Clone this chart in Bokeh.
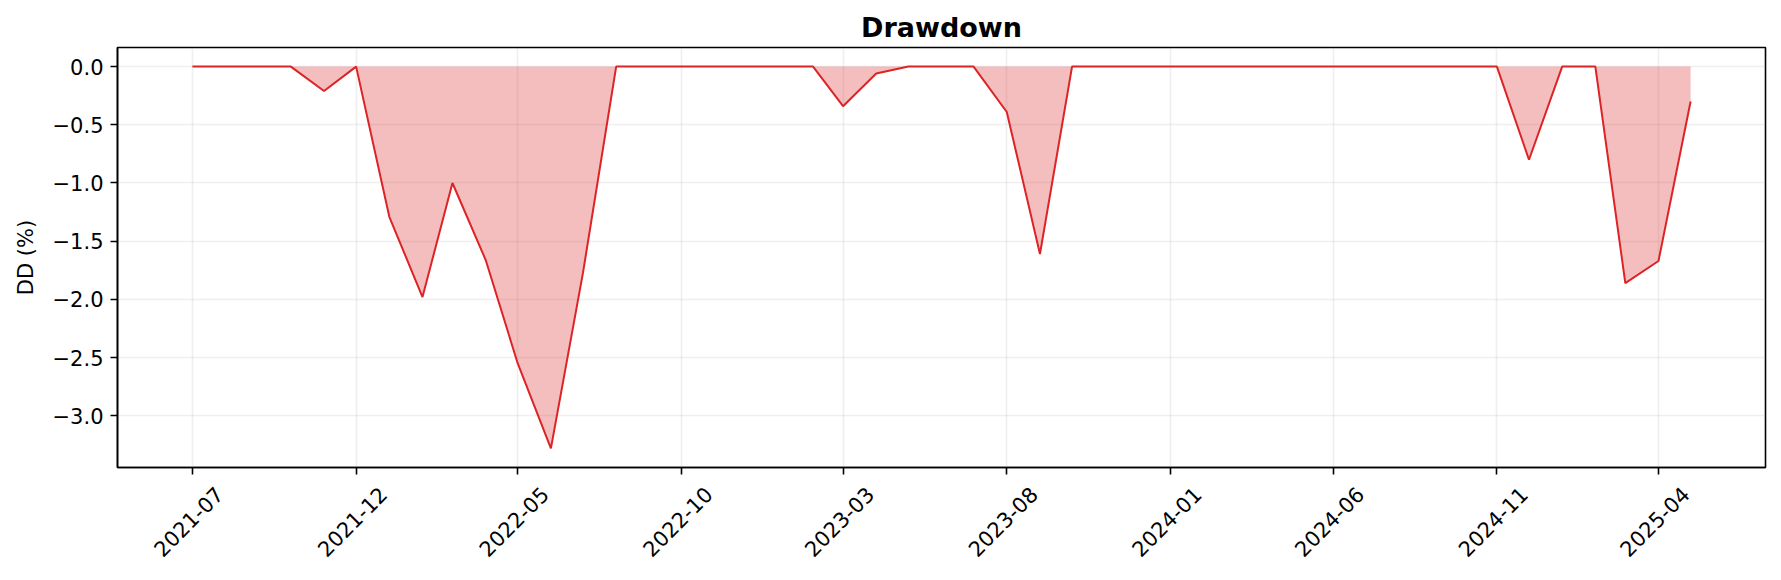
import numpy as np
import pandas as pd
from bokeh.plotting import figure
from bokeh.models import (Range1d, FixedTicker, DatetimeAxis, ColumnDataSource,
                          CustomJSTickFormatter)
from bokeh.embed import file_html
from bokeh.resources import INLINE

# monthly drawdown in %, first value is 2021-07
first_month = "2021-07-01"
drawdown = [
    0.0, 0.0, 0.0, 0.0, -0.21, 0.0,          # 2021-07 .. 2021-12
    -1.29, -1.98, -1.00, -1.66, -2.55, -3.28,  # 2022-01 .. 2022-06
    -1.77, 0.0, 0.0, 0.0, 0.0, 0.0,          # 2022-07 .. 2022-12
    0.0, 0.0, -0.34, -0.06, 0.0, 0.0,        # 2023-01 .. 2023-06
    0.0, -0.39, -1.61, 0.0, 0.0, 0.0,        # 2023-07 .. 2023-12
    0.0, 0.0, 0.0, 0.0, 0.0, 0.0,            # 2024-01 .. 2024-06
    0.0, 0.0, 0.0, 0.0, 0.0, -0.80,          # 2024-07 .. 2024-12
    0.0, 0.0, -1.86, -1.67, -0.30,           # 2025-01 .. 2025-05
]
x_tick_labels = ["2021-07", "2021-12", "2022-05", "2022-10", "2023-03",
                 "2023-08", "2024-01", "2024-06", "2024-11", "2025-04"]
y_ticks = [0.0, -0.5, -1.0, -1.5, -2.0, -2.5, -3.0]

FONT = "DejaVu Sans"
RED = "#dc2427"
FRAME_W = 1648
LABEL_SHIFT_PX = 27  # bokeh right-aligns rotated labels, matplotlib centres them


def to_ms(ts):
    return [t.timestamp() * 1000.0 for t in ts]


months = pd.date_range(first_month, periods=len(drawdown), freq="MS")
x_ms = to_ms(months)
tick_ms = to_ms(pd.to_datetime(x_tick_labels))

# matplotlib style 5% margins
x_pad = 0.05 * (x_ms[-1] - x_ms[0])
x_start, x_end = x_ms[0] - x_pad, x_ms[-1] + x_pad
y_lo, y_hi = min(drawdown), 0.0
y_pad = 0.05 * (y_hi - y_lo)

p = figure(x_axis_type="datetime", output_backend="svg", toolbar_location=None,
           frame_width=FRAME_W, frame_height=420,
           min_border_left=117, min_border_right=8,
           min_border_top=47, min_border_bottom=105,
           x_range=Range1d(x_start, x_end),
           y_range=Range1d(y_lo - y_pad, y_hi + y_pad),
           title="Drawdown")

p.title.align = "center"
p.title.text_font = FONT
p.title.text_font_size = "27px"
p.title.text_font_style = "bold"
p.title.text_color = "black"

src = ColumnDataSource(dict(x=x_ms, y=drawdown))
p.varea(x="x", y1="y", y2=0.0, source=src, fill_color=RED, fill_alpha=0.3)
p.line(x="x", y="y", source=src, line_color=RED, line_width=2)

# x axis: tick marks only, labels come from a second axis below it
p.xaxis.ticker = FixedTicker(ticks=tick_ms)
p.xaxis.formatter = CustomJSTickFormatter(code="return ''")
p.xaxis.major_label_standoff = 0

ms_per_px = (x_end - x_start) / FRAME_W
label_pos = [t + LABEL_SHIFT_PX * ms_per_px for t in tick_ms]
lab_axis = DatetimeAxis(ticker=FixedTicker(ticks=label_pos),
                        major_label_overrides=dict(zip(label_pos, x_tick_labels)),
                        major_label_orientation=np.pi / 4,
                        axis_line_color=None, major_tick_line_color=None,
                        minor_tick_line_color=None,
                        major_tick_in=0, major_tick_out=0,
                        major_label_standoff=16)
p.add_layout(lab_axis, "below")

p.yaxis.ticker = FixedTicker(ticks=y_ticks)
p.yaxis.major_label_overrides = {t: f"{t:.1f}".replace("-", "\u2212") for t in y_ticks}
p.yaxis.axis_label = "DD (%)"
p.yaxis.axis_label_text_font = FONT
p.yaxis.axis_label_text_font_size = "21px"
p.yaxis.axis_label_text_font_style = "normal"
p.yaxis.axis_label_text_color = "black"
p.yaxis.axis_label_standoff = 12
p.yaxis.major_label_standoff = 7

for ax in (p.xaxis[0], p.yaxis[0]):
    ax.axis_line_color = "black"
    ax.axis_line_width = 1.6
    ax.major_tick_line_color = "black"
    ax.major_tick_line_width = 1.6
    ax.major_tick_out = 7
    ax.major_tick_in = 0
    ax.minor_tick_line_color = None

for ax in (p.xaxis[0], p.yaxis[0], lab_axis):
    ax.major_label_text_font = FONT
    ax.major_label_text_font_size = "21px"
    ax.major_label_text_color = "black"

p.grid.grid_line_color = "#b0b0b0"
p.grid.grid_line_alpha = 0.2
p.grid.grid_line_width = 1.6
p.outline_line_color = "black"
p.outline_line_width = 1.6
p.outline_line_alpha = 1.0
p.background_fill_color = "white"
p.border_fill_color = "white"

open("out.html", "w").write(file_html(p, INLINE))
